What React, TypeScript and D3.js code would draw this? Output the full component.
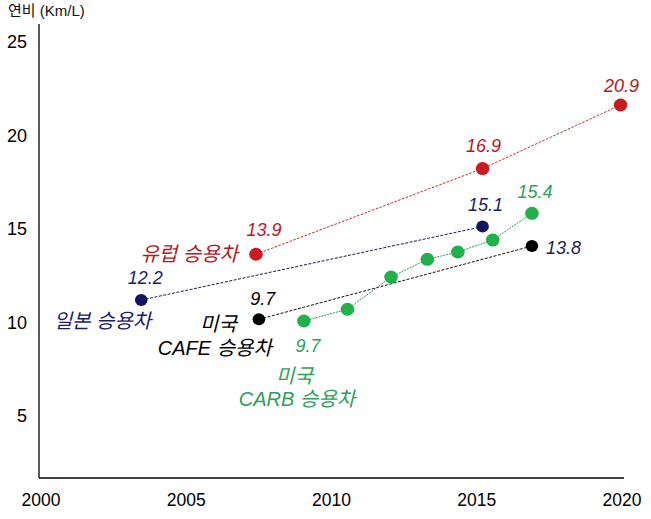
import React from "react";
import * as d3 from "d3";

const xTicks = [2000, 2005, 2010, 2015, 2020];
const yTicks = [5, 10, 15, 20, 25];

const japanYears = [2003.45, 2015.2];
const japanValues = [11.2, 15.13];
const japanLabels = ["12.2", "15.1"];

const europeYears = [2007.4, 2015.2, 2019.95];
const europeValues = [13.65, 18.23, 21.63];
const europeLabels = ["13.9", "16.9", "20.9"];

const cafeYears = [2007.5, 2016.9];
const cafeValues = [10.17, 14.09];
const cafeLabels = ["9.7", "13.8"];

const carbYears = [2009.05, 2010.55, 2012.05, 2013.3, 2014.35, 2015.55, 2016.9];
const carbValues = [10.08, 10.71, 12.43, 13.38, 13.77, 14.41, 15.84];
const carbLabels = ["9.7", "", "", "", "", "", "15.4"];

const W = 651;
const H = 519;
const FONT = '"Liberation Sans", Arial, "Noto Sans CJK KR", sans-serif';

const x = d3.scaleLinear().domain([2000, 2020]).range([41, 622]);
const y = d3.scaleLinear().domain([0, 25]).range([509.5, 42]);

type Series = {
  years: number[];
  values: number[];
  labels: string[];
  dot: string;
  line: string;
  text: string;
  r: number;
  dash: string;
  offsets: { dx: number; dy: number; anchor: string; color?: string }[];
};

const series: Series[] = [
  {
    years: europeYears,
    values: europeValues,
    labels: europeLabels,
    dot: "#c81c22",
    line: "#c0262b",
    text: "#b3191f",
    r: 6.5,
    dash: "2.5,1.5",
    offsets: [
      { dx: 8, dy: -18, anchor: "middle" },
      { dx: 1, dy: -17, anchor: "middle" },
      { dx: 1, dy: -13.5, anchor: "middle" },
    ],
  },
  {
    years: japanYears,
    values: japanValues,
    labels: japanLabels,
    dot: "#13135e",
    line: "#1b1b55",
    text: "#1c1c6a",
    r: 6,
    dash: "3,1.5",
    offsets: [
      { dx: 4, dy: -16, anchor: "middle" },
      { dx: 3, dy: -16, anchor: "middle" },
    ],
  },
  {
    years: cafeYears,
    values: cafeValues,
    labels: cafeLabels,
    dot: "#000000",
    line: "#111111",
    text: "#000000",
    r: 6,
    dash: "3,1.5",
    offsets: [
      { dx: 4, dy: -14, anchor: "middle" },
      { dx: 14, dy: 7.5, anchor: "start", color: "#1c1c50" },
    ],
  },
  {
    years: carbYears,
    values: carbValues,
    labels: carbLabels,
    dot: "#22b04b",
    line: "#2e9a58",
    text: "#2e9e5b",
    r: 6.5,
    dash: "2,1",
    offsets: [
      { dx: 4, dy: 30.5, anchor: "middle" },
      { dx: 0, dy: 0, anchor: "middle" },
      { dx: 0, dy: 0, anchor: "middle" },
      { dx: 0, dy: 0, anchor: "middle" },
      { dx: 0, dy: 0, anchor: "middle" },
      { dx: 0, dy: 0, anchor: "middle" },
      { dx: 3, dy: -15, anchor: "middle" },
    ],
  },
];

const names = [
  { si: 0, lines: ["유럽 승용차"], dy: [6.5], anchor: "end", dxs: [-18], color: "#b3191f" },
  { si: 1, lines: ["일본 승용차"], dy: [28], anchor: "end", dxs: [10], color: "#1c1c6a" },
  { si: 2, lines: ["미국", "CAFE 승용차"], dy: [11.5, 36], anchor: "end", dxs: [-22, 13], color: "#000000" },
  { si: 3, lines: ["미국", "CARB 승용차"], dy: [62, 84.5], anchor: "middle", dxs: [-9.5, -7], color: "#2e9e5b" },
];

export default function App() {
  const line = d3
    .line<[number, number]>()
    .x((d) => x(d[0]))
    .y((d) => y(d[1]));

  return (
    <svg
      width={W}
      height={H}
      viewBox={`0 0 ${W} ${H}`}
      style={{ position: "absolute", left: 0, top: 0, background: "#fff" }}
      fontFamily={FONT}
    >
      <rect x={0} y={0} width={W} height={H} fill="#fff" />
      <line x1={39} y1={24} x2={39} y2={478} stroke="#000" strokeWidth={1.3} />
      <line x1={39} y1={478} x2={624} y2={478} stroke="#000" strokeWidth={1.3} />
      <text x={8} y={16} fontSize={15} fill="#111">
        연비 (Km/L)
      </text>
      {yTicks.map((t) => (
        <text key={t} x={27} y={y(t) + 6.3} fontSize={18} textAnchor="end" fill="#000">
          {t}
        </text>
      ))}
      {xTicks.map((t) => (
        <text key={t} x={x(t)} y={506} fontSize={17.5} textAnchor="middle" fill="#000">
          {t}
        </text>
      ))}
      {series.map((s, si) => {
        const pts: [number, number][] = s.years.map((yr, i) => [yr, s.values[i]]);
        return (
          <g key={si}>
            <path d={line(pts) || ""} fill="none" stroke={s.line} strokeWidth={1} strokeDasharray={s.dash} />
            {pts.map((p, i) => (
              <ellipse key={i} cx={x(p[0])} cy={y(p[1])} rx={s.r + 0.3} ry={s.r} fill={s.dot} />
            ))}
            {pts.map((p, i) =>
              s.labels[i] ? (
                <text
                  key={"l" + i}
                  x={x(p[0]) + s.offsets[i].dx}
                  y={y(p[1]) + s.offsets[i].dy}
                  fontSize={18}
                  fontStyle="italic"
                  textAnchor={s.offsets[i].anchor as any}
                  fill={s.offsets[i].color || s.text}
                >
                  {s.labels[i]}
                </text>
              ) : null
            )}
          </g>
        );
      })}
      {names.map((n, ni) => {
        const s = series[n.si];
        const px = x(s.years[0]);
        const py = y(s.values[0]);
        return (
          <g key={"n" + ni}>
            {n.lines.map((ln, li) => (
              <text
                key={li}
                x={px + n.dxs[li]}
                y={py + n.dy[li]}
                fontSize={20}
                fontStyle="italic"
                textAnchor={n.anchor as any}
                fill={n.color}
              >
                {ln}
              </text>
            ))}
          </g>
        );
      })}
    </svg>
  );
}
